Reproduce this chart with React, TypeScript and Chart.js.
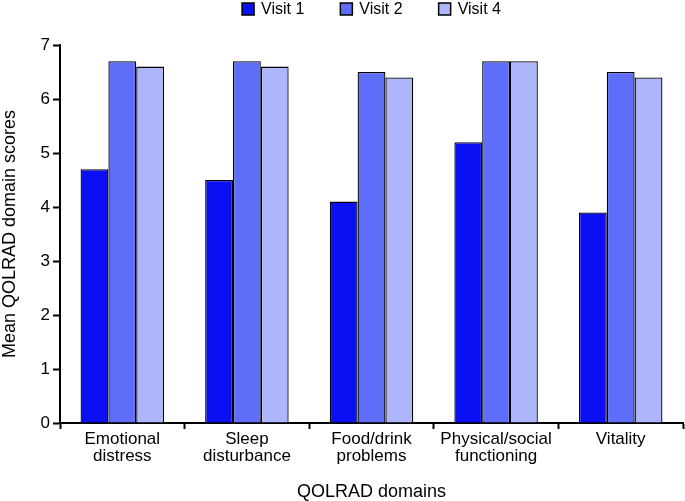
import React, { useEffect, useRef } from "react";
import { Chart, registerables } from "chart.js";

Chart.register(...registerables);

const categories: string[][] = [
  ["Emotional", "distress"],
  ["Sleep", "disturbance"],
  ["Food/drink", "problems"],
  ["Physical/social", "functioning"],
  ["Vitality"],
];
const visit1 = [4.7, 4.5, 4.1, 5.2, 3.9];
const visit2 = [6.7, 6.7, 6.5, 6.7, 6.5];
const visit4 = [6.6, 6.6, 6.4, 6.7, 6.4];
const seriesNames = ["Visit 1", "Visit 2", "Visit 4"];
const seriesColors = ["#0A10F2", "#5F6EF9", "#AEB6FB"];
const yTicks = [0, 1, 2, 3, 4, 5, 6, 7];

const FONT = "Arial, 'Liberation Sans', sans-serif";

const topLegend = {
  id: "topLegend",
  afterDraw(chart: any) {
    const ctx = chart.ctx;
    const box = 12;
    const gap = 7;
    const itemGap = 36;
    const cy = 9;
    ctx.save();
    ctx.font = `16px ${FONT}`;
    const items = chart.data.datasets.map((d: any) => ({
      label: d.label,
      color: d.backgroundColor,
      w: box + gap + ctx.measureText(d.label).width,
    }));
    const total = items.reduce((a: number, it: any) => a + it.w, 0) + itemGap * (items.length - 1);
    const ca = chart.chartArea;
    let x = (ca.left + ca.right) / 2 - total / 2;
    ctx.textBaseline = "middle";
    ctx.textAlign = "left";
    for (const it of items) {
      ctx.fillStyle = it.color;
      ctx.fillRect(x, cy - box / 2, box, box);
      ctx.lineWidth = 1.5;
      ctx.strokeStyle = "#000";
      ctx.strokeRect(x, cy - box / 2, box, box);
      ctx.fillStyle = "#000";
      ctx.fillText(it.label, x + box + gap, cy + 1);
      x += it.w + itemGap;
    }
    ctx.restore();
  },
};

export default function App() {
  const ref = useRef<HTMLCanvasElement | null>(null);
  useEffect(() => {
    if (!ref.current) return;
    const values = [visit1, visit2, visit4];
    const chart = new Chart(ref.current, {
      type: "bar",
      data: {
        labels: categories,
        datasets: values.map((v, i) => ({
          label: seriesNames[i],
          data: v,
          backgroundColor: seriesColors[i],
          borderColor: "#000",
          borderWidth: 1.3,
          categoryPercentage: 0.67,
          barPercentage: 1.0,
        })),
      },
      plugins: [topLegend],
      options: {
        animation: false,
        responsive: false,
        maintainAspectRatio: false,
        layout: { padding: { top: 45, right: 2, left: 0, bottom: 0 } },
        plugins: {
          legend: { display: false },
          tooltip: { enabled: false },
        },
        scales: {
          x: {
            offset: true,
            border: { color: "#000", width: 2 },
            grid: {
              offset: true,
              drawOnChartArea: false,
              drawTicks: true,
              tickLength: 6,
              tickWidth: 2,
              color: "#000",
            },
            ticks: {
              color: "#000",
              font: { family: FONT, size: 17, lineHeight: 1.0 },
              maxRotation: 0,
              autoSkip: false,
              padding: 2,
            },
            title: {
              display: true,
              text: "QOLRAD domains",
              color: "#000",
              font: { family: FONT, size: 18 },
              padding: { top: 16, bottom: -2 },
            },
            afterFit: (s: any) => {
              s.height = 78;
            },
          },
          y: {
            min: 0,
            max: 7,
            border: { color: "#000", width: 2 },
            grid: {
              drawOnChartArea: false,
              drawTicks: true,
              tickLength: 7,
              tickWidth: 2,
              color: "#000",
            },
            afterBuildTicks: (s: any) => {
              s.ticks = yTicks.map((v) => ({ value: v }));
            },
            ticks: {
              color: "#000",
              font: { family: FONT, size: 17 },
              padding: 3,
            },
            title: {
              display: true,
              text: "Mean QOLRAD domain scores",
              color: "#000",
              font: { family: FONT, size: 18 },
              padding: { top: -1, bottom: 4 },
            },
            afterFit: (s: any) => {
              s.width = 60;
            },
          },
        },
      },
    });
    return () => chart.destroy();
  }, []);
  return (
    <div style={{ position: "absolute", left: 0, top: 0, width: 685, height: 501, background: "#fff" }}>
      <canvas ref={ref} width={685} height={501} style={{ width: 685, height: 501 }} />
    </div>
  );
}
